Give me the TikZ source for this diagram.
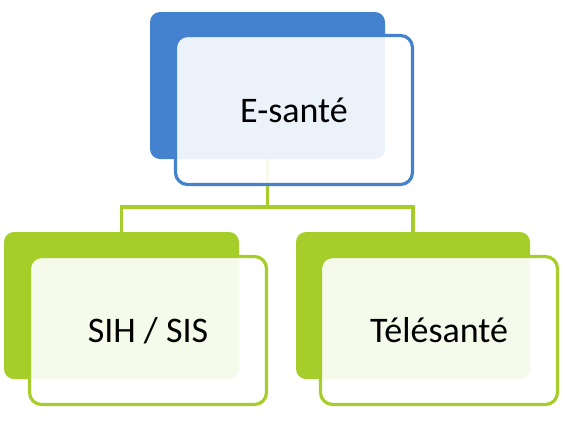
\documentclass[tikz,border=0pt]{standalone}
\usepackage{fontspec}
\setmainfont{Carlito}
\definecolor{eblue}{RGB}{68,130,208}
\definecolor{egreen}{RGB}{166,206,42}
\begin{document}
\begin{tikzpicture}[x=1pt,y=-1pt,
 back/.style={rectangle, rounded corners=10pt, inner sep=0pt, fill=#1},
 front/.style={rectangle, rounded corners=12pt, inner sep=0pt, draw=#1, line width=3.2pt, fill=white, fill opacity=0.9, text opacity=1, draw opacity=1, font=\fontsize{36}{42}\selectfont, minimum width=237pt, minimum height=148pt},
 conn/.style={draw=egreen, line width=3.2pt}]
\useasboundingbox (0,0) rectangle (565,421);
\node[back=eblue, minimum width=235pt, minimum height=147pt] (topback) at (267.5,85.5) {};
\node[back=egreen, minimum width=235pt, minimum height=147pt] (leftback) at (121.5,305.5) {};
\node[back=egreen, minimum width=234pt, minimum height=147pt] (rightback) at (413,305.5) {};
\coordinate (hub) at (267.5,207);
\draw[conn] (topback.south) -- (hub) -| (leftback.north);
\draw[conn] (hub) -| (rightback.north);
\node[front=eblue, minimum height=149pt] (top) at (294,110) {E-santé};
\node[front=egreen] (left) at (148,330.5) {SIH / SIS};
\node[front=egreen] (right) at (439,330.5) {Télésanté};
\end{tikzpicture}
\end{document}
